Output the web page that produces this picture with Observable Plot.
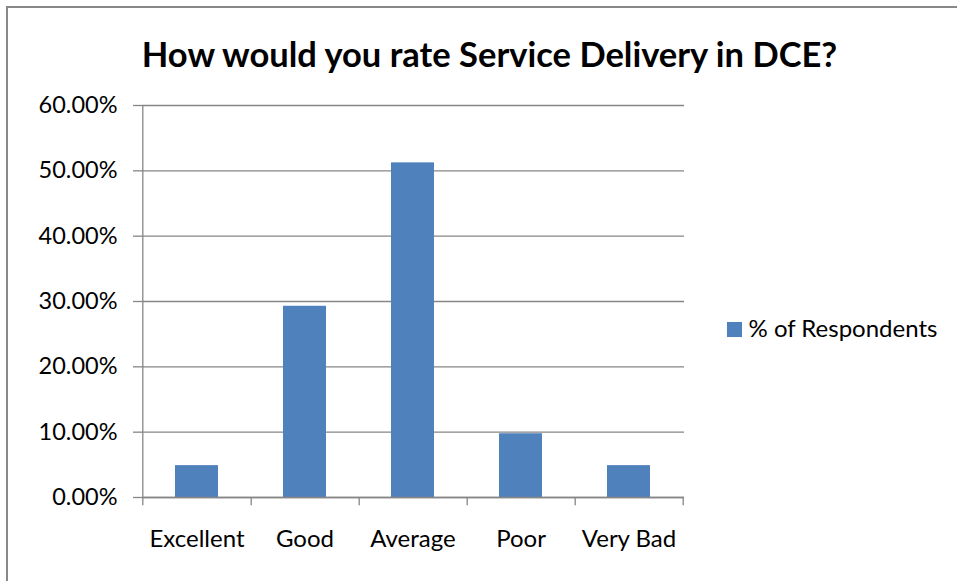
<!DOCTYPE html>
<html>
<head>
<meta charset="utf-8">
<script src="https://cdn.jsdelivr.net/npm/d3@7"></script>
<script src="https://cdn.jsdelivr.net/npm/@observablehq/plot@0.6"></script>
<style>
  html, body { margin: 0; padding: 0; background: #fff; }
  #wrap { position: relative; width: 957px; height: 581px; overflow: hidden; }
  #frame { position: absolute; left: 6px; top: 6px; width: 1000px; height: 1000px;
           border-top: 2px solid #888; border-left: 2px solid #888; box-sizing: border-box; }
  #chart { position: absolute; left: 0; top: 0; }
</style>
</head>
<body>
<div id="wrap"><div id="frame"></div><div id="chart"></div></div>
<script>
const categories = ["Excellent", "Good", "Average", "Poor", "Very Bad"];
const values = [0.0488, 0.2927, 0.5122, 0.0976, 0.0488];
const yTicks = [0, 0.1, 0.2, 0.3, 0.4, 0.5, 0.6];
const seriesName = "% of Respondents";
const title = "How would you rate Service Delivery in DCE?";

const data = categories.map((c, i) => ({category: c, value: values[i]}));

const W = 957, H = 581;
const ml = 142, mr = 273, mt = 105, mb = 84;
const bw = (W - ml - mr) / categories.length;
const gray = "#868686";
const font = "Lato, 'Open Sans', sans-serif";

const chart = Plot.plot({
  width: W, height: H,
  marginLeft: ml, marginRight: mr, marginTop: mt, marginBottom: mb,
  style: {fontFamily: font, fontSize: "23.5px", color: "#000", background: "transparent", overflow: "visible"},
  x: {domain: categories, paddingInner: 0.6, paddingOuter: 0.3, align: 0.5},
  y: {domain: [0, 0.6]},
  marks: [
    Plot.ruleY(yTicks, {stroke: gray, strokeWidth: 1.3}),
    Plot.axisY({ticks: yTicks, tickFormat: d => (d * 100).toFixed(2) + "%", tickSize: 9, tickPadding: 16,
                stroke: gray, strokeWidth: 1.3, strokeOpacity: 1, fontSize: 23.5, label: null}),
    Plot.barY(data, {x: "category", y: "value", fill: "#4f81bd"}),
    Plot.ruleX([categories[0]], {y1: -0.0125, y2: 0.6, dx: -bw / 2, stroke: gray, strokeWidth: 1.3}),
    Plot.ruleX(categories, {y1: -0.0125, y2: 0, dx: bw / 2, stroke: gray, strokeWidth: 1.3}),
    Plot.ruleY([0], {stroke: gray, strokeWidth: 1.3}),
    Plot.axisX({tickSize: 0, tickPadding: 32, fontSize: 24, label: null}),
    Plot.text([title], {frameAnchor: "top", dx: 76, dy: -63, text: d => d, fontSize: 34.5, fontWeight: "bold", fill: "#000"}),
    Plot.dot([seriesName], {frameAnchor: "right", dx: 50, dy: 28, symbol: "square", r: 8.5, fill: "#4f81bd", stroke: null}),
    Plot.text([seriesName], {frameAnchor: "right", dx: 64, dy: 28, text: d => d, textAnchor: "start", fontSize: 24, fill: "#000"})
  ]
});
document.getElementById("chart").appendChild(chart);
</script>
</body>
</html>
